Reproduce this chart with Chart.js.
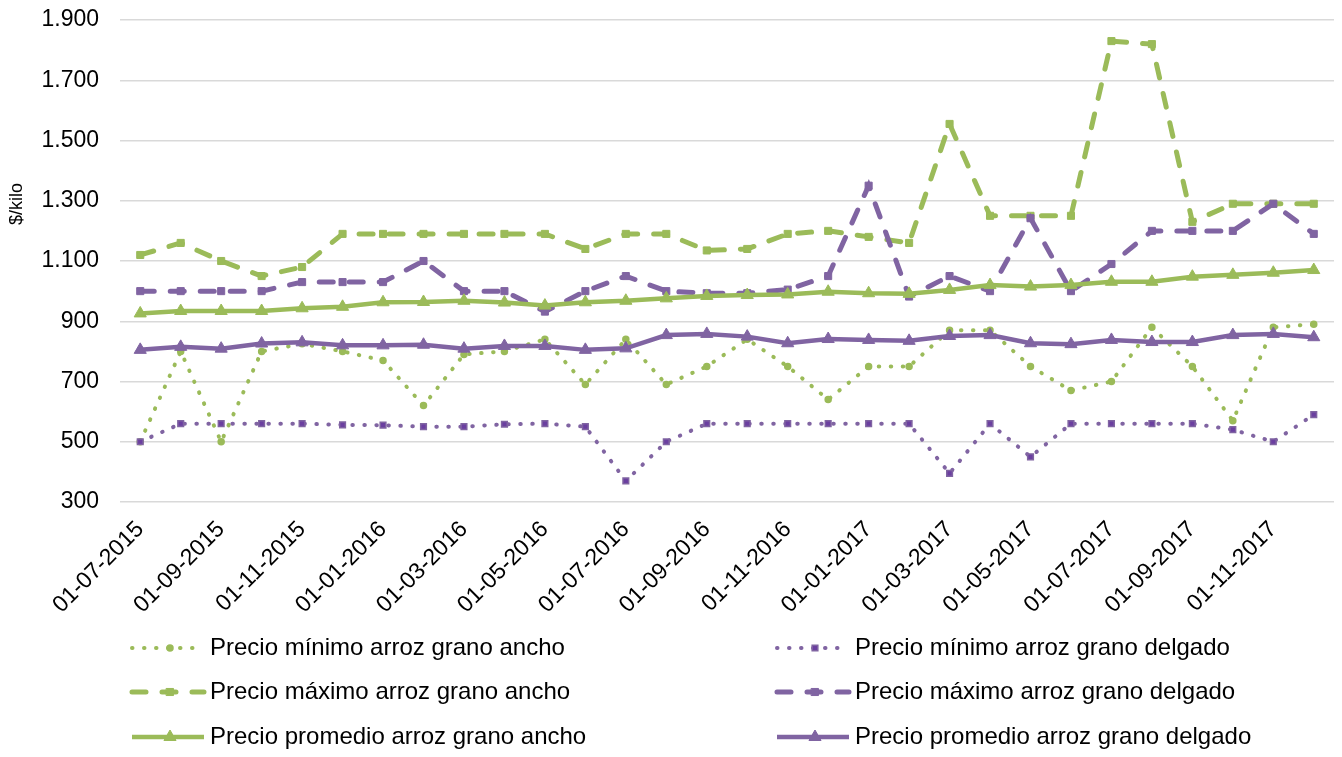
<!DOCTYPE html>
<html>
<head>
<meta charset="utf-8">
<script src="https://cdn.jsdelivr.net/npm/chart.js@4.4.1/dist/chart.umd.min.js"></script>
<style>
  html, body { margin: 0; padding: 0; background: #fff; }
  #wrap { width: 1342px; height: 757px; }
</style>
</head>
<body>
<div id="wrap"><canvas id="grafico"></canvas></div>
<script>
// Datos mensuales ($/kilo)
const fechas = [
  '01-07-2015', '01-08-2015', '01-09-2015', '01-10-2015', '01-11-2015', '01-12-2015',
  '01-01-2016', '01-02-2016', '01-03-2016', '01-04-2016', '01-05-2016', '01-06-2016',
  '01-07-2016', '01-08-2016', '01-09-2016', '01-10-2016', '01-11-2016', '01-12-2016',
  '01-01-2017', '01-02-2017', '01-03-2017', '01-04-2017', '01-05-2017', '01-06-2017',
  '01-07-2017', '01-08-2017', '01-09-2017', '01-10-2017', '01-11-2017', '01-12-2017'
];

const minAncho = [500, 800, 500, 800, 825, 800, 770, 620, 790, 800, 840, 690, 840, 690, 750,
  840, 750, 640, 750, 750, 870, 870, 750, 670, 700, 880, 750, 570, 880, 890];
const minDelgado = [500, 560, 560, 560, 560, 556, 555, 550, 550, 558, 560, 550, 370, 500, 560,
  560, 560, 560, 560, 560, 395, 560, 450, 560, 560, 560, 560, 540, 500, 590];
const maxAncho = [1120, 1160, 1100, 1050, 1080, 1190, 1190, 1190, 1190, 1190, 1190, 1140, 1190, 1190, 1135,
  1140, 1190, 1200, 1180, 1160, 1555, 1250, 1250, 1250, 1830, 1820, 1230, 1290, 1290, 1290];
const maxDelgado = [1000, 1000, 1000, 1000, 1030, 1030, 1030, 1100, 1000, 1000, 932, 1000, 1050, 1000, 993,
  993, 1005, 1050, 1350, 982, 1050, 1000, 1242, 1000, 1090, 1200, 1200, 1200, 1290, 1190];
const promAncho = [926, 934, 934, 934, 943, 948, 963, 964, 968, 962, 952, 963, 968, 976, 984,
  987, 989, 998, 993, 991, 1004, 1020, 1015, 1020, 1031, 1031, 1048, 1054, 1061, 1070];
const promDelgado = [805, 815, 809, 826, 830, 820, 820, 822, 809, 818, 818, 805, 810, 854, 858,
  849, 827, 841, 838, 835, 851, 854, 827, 824, 838, 831, 831, 854, 858, 847];

const yTicks = [300, 500, 700, 900, 1100, 1300, 1500, 1700, 1900];

const VERDE = '#9BBB59';
const MORADO = '#8064A2';
const FUENTE = '"Liberation Sans", Arial, sans-serif';

// separador de miles con punto
const miles = v => String(v).replace(/\B(?=(\d{3})+(?!\d))/g, '.');

function serie(label, data, color, tipo) {
  const base = {
    label, data,
    borderColor: color,
    backgroundColor: color,
    pointBackgroundColor: color,
    pointBorderColor: color,
    fill: false,
    tension: 0
  };
  if (tipo === 'min') {
    return Object.assign(base, {
      borderWidth: 4, borderDash: [0.5, 11.5], borderCapStyle: 'round',
      pointStyle: color === VERDE ? 'circle' : 'rect',
      pointRadius: color === VERDE ? 3 : 4,
      pointBorderWidth: 1.5,
      pointBackgroundColor: color === VERDE ? color : '#6B3FA0'
    });
  }
  if (tipo === 'max') {
    return Object.assign(base, {
      borderWidth: 5, borderDash: [14, 16], borderCapStyle: 'round',
      pointStyle: 'rect', pointRadius: 5, pointBorderWidth: 1
    });
  }
  return Object.assign(base, {
    borderWidth: 4.5, pointStyle: 'triangle', pointRadius: 7, pointBorderWidth: 1
  });
}

const datasets = [
  serie('Precio mínimo arroz grano ancho', minAncho, VERDE, 'min'),
  serie('Precio mínimo arroz grano delgado', minDelgado, MORADO, 'min'),
  serie('Precio máximo arroz grano ancho', maxAncho, VERDE, 'max'),
  serie('Precio máximo arroz grano delgado', maxDelgado, MORADO, 'max'),
  serie('Precio promedio arroz grano ancho', promAncho, VERDE, 'prom'),
  serie('Precio promedio arroz grano delgado', promDelgado, MORADO, 'prom')
];
// las ultimas series quedan encima
datasets.forEach((ds, i) => { ds.order = datasets.length - 1 - i; });

// leyenda en dos columnas + titulo del eje y
const leyenda = {
  id: 'leyenda',
  afterDraw(chart) {
    const ctx = chart.ctx;
    const cols = [130, 775];
    const rows = [648, 692, 737];
    chart.data.datasets.forEach((ds, i) => {
      const x = cols[i % 2];
      const y = rows[Math.floor(i / 2)];
      ctx.save();
      ctx.strokeStyle = ds.borderColor;
      ctx.lineWidth = ds.borderWidth;
      ctx.lineCap = ds.borderCapStyle || 'butt';
      ctx.setLineDash(ds.borderDash || []);
      ctx.beginPath();
      ctx.moveTo(x + 2, y);
      ctx.lineTo(x + 74, y);
      ctx.stroke();
      ctx.setLineDash([]);
      ctx.fillStyle = ds.pointBackgroundColor;
      ctx.strokeStyle = ds.pointBorderColor;
      ctx.lineWidth = ds.pointBorderWidth;
      Chart.helpers.drawPoint(ctx, {
        pointStyle: ds.pointStyle, radius: ds.pointRadius, borderWidth: ds.pointBorderWidth, rotation: 0
      }, x + 40, y);
      ctx.fillStyle = '#000';
      ctx.font = '24px ' + FUENTE;
      ctx.textBaseline = 'middle';
      ctx.textAlign = 'left';
      ctx.fillText(ds.label, x + 80, y);
      ctx.restore();
    });

    ctx.save();
    ctx.fillStyle = '#000';
    ctx.font = '18px ' + FUENTE;
    ctx.translate(17, 204);
    ctx.rotate(-Math.PI / 2);
    ctx.textAlign = 'center';
    ctx.textBaseline = 'middle';
    ctx.fillText('$/kilo', 0, 0);
    ctx.restore();
  }
};

new Chart(document.getElementById('grafico'), {
  type: 'line',
  data: { labels: fechas, datasets },
  plugins: [leyenda],
  options: {
    responsive: true,
    maintainAspectRatio: false,
    devicePixelRatio: 1,
    animation: false,
    layout: { padding: { top: 20, right: 6, bottom: 135, left: 0 } },
    plugins: { legend: { display: false }, tooltip: { enabled: false } },
    scales: {
      x: {
        offset: true,
        grid: { display: false },
        border: { display: false },
        ticks: {
          autoSkip: false, minRotation: 45, maxRotation: 45, padding: 6,
          color: '#000', font: { family: FUENTE, size: 23 },
          callback: (v, i) => (i % 2 === 0 ? fechas[i] : '')
        },
        afterFit: s => { s.height = 120; }
      },
      y: {
        min: 300, max: 1900,
        afterBuildTicks: s => { s.ticks = yTicks.map(v => ({ value: v })); },
        grid: { color: '#D9D9D9', lineWidth: 1.5, drawTicks: false },
        border: { display: false },
        ticks: {
          padding: 21, color: '#000', font: { family: FUENTE, size: 23 },
          callback: v => miles(v)
        },
        afterFit: s => { s.width = 120; s.paddingTop = 0; s.paddingBottom = 0; }
      }
    }
  }
});
</script>
</body>
</html>
